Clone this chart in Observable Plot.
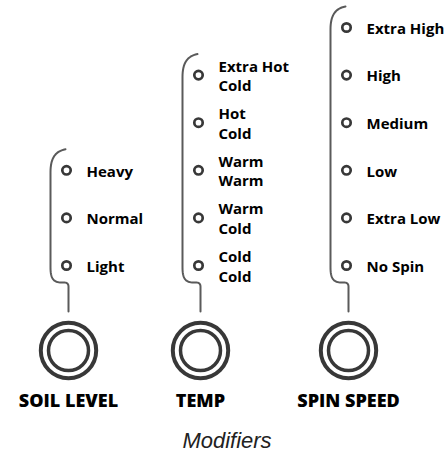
<!DOCTYPE html>
<html><head><meta charset="utf-8">
<script src="https://cdn.jsdelivr.net/npm/d3@7"></script>
<script src="https://cdn.jsdelivr.net/npm/@observablehq/plot@0.6"></script>
<style>body{margin:0;background:#fff} svg{display:block}</style>
</head><body><div id="chart"></div>
<script>
// ---- data ----
const groups = ["SOIL LEVEL", "TEMP", "SPIN SPEED"];
const soilOptions = ["Heavy", "Normal", "Light"];
const tempOptions = ["Extra Hot\nCold", "Hot\nCold", "Warm\nWarm", "Warm\nCold", "Cold\nCold"];
const spinOptions = ["Extra High", "High", "Medium", "Low", "Extra Low", "No Spin"];
const caption = "Modifiers";

// ---- layout ----
const W = 448, H = 453;
const groupX = [68, 200, 348];
const slot0Y = 265, slotStep = 47.6;
const knobY = 350, titleY = 401, captionY = 440.5, stemEndY = 311;
const toSlot = py => (slot0Y - py) / slotStep;

const optionLists = [soilOptions, tempOptions, spinOptions];
const groupData = groups.map((name, i) => ({name, gx: groupX[i], n: optionLists[i].length}));
const optionData = groupData.flatMap((g, i) =>
  optionLists[i].map((label, j) => ({g: g.name, gx: g.gx, s: g.n - 1 - j, label})));

function cubic(p0, p1, p2, p3, n = 16) {
  const pts = [];
  for (let k = 0; k <= n; k++) {
    const t = k / n, u = 1 - t;
    pts.push([
      u*u*u*p0[0] + 3*u*u*t*p1[0] + 3*u*t*t*p2[0] + t*t*t*p3[0],
      u*u*u*p0[1] + 3*u*u*t*p1[1] + 3*u*t*t*p2[1] + t*t*t*p3[1]
    ]);
  }
  return pts;
}
const bracketData = groupData.flatMap(g => {
  const gx = g.gx, bx = gx - 18;
  const topY = slot0Y - (g.n - 1) * slotStep, botY = slot0Y;
  const pts = [
    ...cubic([gx - 3, topY - 21], [bx + 4, topY - 19], [bx, topY - 11], [bx, topY + 2]),
    ...cubic([bx, botY + 2], [bx, botY + 13], [bx + 3, botY + 17], [bx + 11, botY + 17]),
    ...cubic([gx - 4, botY + 17], [gx - 1.5, botY + 17], [gx, botY + 18.5], [gx, botY + 21], 6),
    [gx, stemEndY]
  ];
  return pts.map(([x, y]) => ({g: g.name, x, s: toSlot(y)}));
});

const ink = "#383838";
const plot = Plot.plot({
  width: W, height: H,
  marginTop: 0, marginRight: 0, marginBottom: 0, marginLeft: 0,
  x: {type: "linear", domain: [0, W], range: [0, W], axis: null},
  y: {type: "linear", domain: [toSlot(0), toSlot(H)], range: [0, H], axis: null},
  marks: [
    Plot.line(bracketData, {x: "x", y: "s", z: "g", stroke: "#5a5a5a", strokeWidth: 2, curve: "linear"}),
    Plot.dot(optionData, {x: "gx", y: "s", dx: -2, r: 4.2, stroke: ink, strokeWidth: 2.7, fill: "white"}),
    Plot.text(optionData, {x: "gx", y: "s", text: "label", dx: 18, textAnchor: "start", lineAnchor: "middle",
      lineHeight: 1.3, fontSize: 15, fontWeight: 700, fontFamily: "Open Sans", fill: "#000", ariaLabel: "opts"}),
    Plot.dot(groupData, {x: "gx", y: () => toSlot(knobY), r: 27.7, stroke: ink, strokeWidth: 4, fill: "none"}),
    Plot.dot(groupData, {x: "gx", y: () => toSlot(knobY), r: 20, stroke: ink, strokeWidth: 3.5, fill: "none"}),
    Plot.text(groupData, {x: "gx", y: () => toSlot(titleY), text: "name", fontSize: 18, fontWeight: 800,
      fontFamily: "Open Sans", fill: "#000", lineAnchor: "middle", ariaLabel: "titles"}),
    Plot.text([caption], {x: () => 226.5, y: () => toSlot(captionY), text: d => d, fontSize: 22,
      fontStyle: "italic", fontFamily: "Liberation Sans", fill: "#222", lineAnchor: "middle"})
  ]
});
d3.select(plot).selectAll('g[aria-label="titles"] text').style("letter-spacing", "1.6px");
d3.select(plot).selectAll('g[aria-label="opts"] text').style("letter-spacing", "0.1px");
document.getElementById("chart").appendChild(plot);
</script>
</body></html>
